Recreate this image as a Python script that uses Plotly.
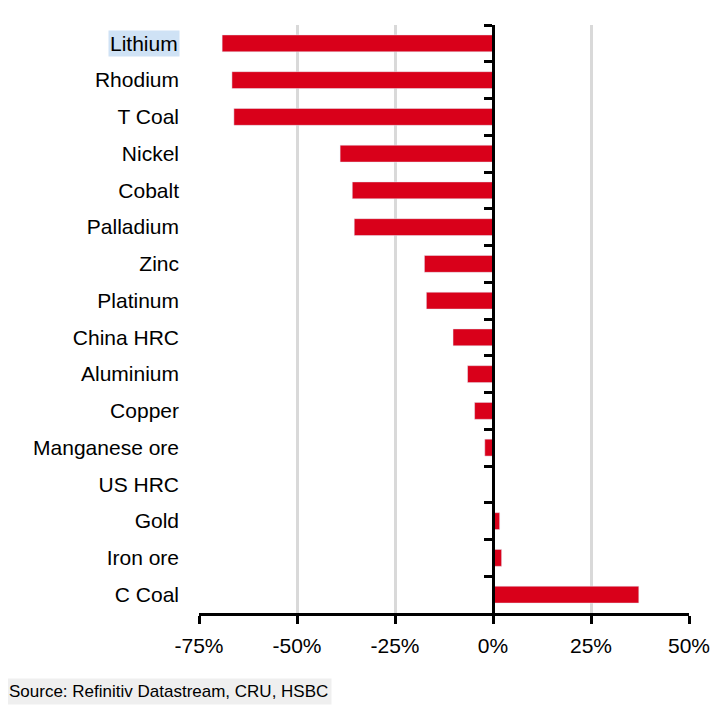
import plotly.graph_objects as go

categories = ["Lithium", "Rhodium", "T Coal", "Nickel", "Cobalt", "Palladium", "Zinc",
              "Platinum", "China HRC", "Aluminium", "Copper", "Manganese ore", "US HRC",
              "Gold", "Iron ore", "C Coal"]
values = [-69.1, -66.6, -66.1, -39.0, -35.9, -35.4, -17.5, -17.0, -10.2, -6.5, -4.7,
          -2.1, 0.0, 1.7, 2.2, 37.2]
x_ticks = [-75, -50, -25, 0, 25, 50]
x_tick_labels = ["-75%", "-50%", "-25%", "0%", "25%", "50%"]
highlight = "Lithium"
source_text = "Source: Refinitiv Datastream, CRU, HSBC"

FONT = "Liberation Sans, Arial, sans-serif"
RED = "#d9001a"
xmin, xmax = x_ticks[0], x_ticks[-1]
zero_pos = (0 - xmin) / (xmax - xmin)

fig = go.Figure()
fig.add_trace(go.Bar(x=values, y=categories, orientation="h",
                     marker=dict(color=RED, line=dict(width=0)),
                     showlegend=False, hoverinfo="x+y"))
# helper trace so the zero-positioned axis (category boundary ticks) is drawn
fig.add_trace(go.Bar(x=values, y=categories, orientation="h", yaxis="y2",
                     marker=dict(color="rgba(0,0,0,0)"), showlegend=False,
                     hoverinfo="skip"))

tick_text = ["" if c == highlight else c for c in categories]

fig.update_layout(
    width=728, height=709,
    margin=dict(l=191, r=47, t=17, b=104, autoexpand=False),
    paper_bgcolor="white", plot_bgcolor="white",
    bargap=0.54,
    font=dict(family=FONT, size=21, color="black"),
    xaxis=dict(range=[xmin, xmax], tickvals=x_ticks, ticktext=x_tick_labels,
               showgrid=True, gridcolor="#d9d9d9", gridwidth=3,
               zeroline=True, zerolinecolor="black", zerolinewidth=3,
               showline=True, linecolor="black", linewidth=3,
               ticks="outside", ticklen=8, tickwidth=3, tickcolor="black",
               ticklabelstandoff=4, automargin=False,
               tickfont=dict(family=FONT, size=21, color="black"),
               fixedrange=True),
    yaxis=dict(type="category", categoryorder="array", categoryarray=categories,
               tickvals=categories, ticktext=tick_text,
               autorange="reversed", showline=False, ticks="", showgrid=False,
               ticklabelstandoff=19, automargin=False,
               tickfont=dict(family=FONT, size=21, color="black")),
    yaxis2=dict(type="category", categoryorder="array", categoryarray=categories,
                overlaying="y", matches="y", anchor="free", position=zero_pos,
                side="left", showline=True, linecolor="black", linewidth=3,
                ticks="outside", tickson="boundaries", ticklen=8, tickwidth=3,
                tickcolor="black", showticklabels=False, showgrid=False,
                automargin=False),
)

fig.add_annotation(text=highlight, xref="paper", yref="y", x=0, y=highlight,
                   xanchor="right", yanchor="middle", xshift=-19, showarrow=False,
                   bgcolor="#cfe2f5", borderpad=1,
                   font=dict(family=FONT, size=21, color="black"))

fig.add_annotation(text=source_text, xref="paper", yref="paper",
                   x=(5 - 199) / 490, y=(613 - 691.5) / 588,
                   xanchor="left", yanchor="middle", showarrow=False,
                   bgcolor="#efefef", borderpad=3,
                   font=dict(family=FONT, size=17, color="black"))

fig.write_html("out.html")
